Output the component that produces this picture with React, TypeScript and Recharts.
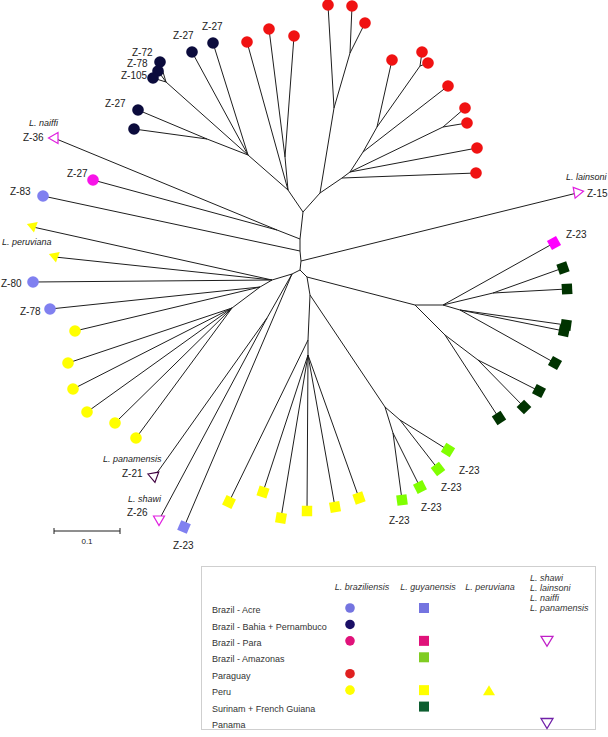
import React from 'react';
import { ScatterChart, Scatter, XAxis, YAxis } from 'recharts';

const W = 608;
const H = 737;

// Layout units: 660 units = 1 substitution/site (scale bar 0.1 = 66 units)
const internalNodes: [string, number, number][] = [
  ['T0', 303, 212], ['T1', 300, 239], ['T2', 300, 251], ['T3', 301, 261], ['T4', 300, 270],
  ['B', 292, 274], ['C', 307, 277],
  ['L1', 288, 190], ['R3', 320, 193],
  ['RA', 285, 157], ['N1', 248, 155], ['N2', 207, 139], ['N3', 166, 82],
  ['R1', 334, 108], ['R2', 350, 53], ['R4', 342, 178], ['R5', 350, 172], ['R6', 363, 152],
  ['R7', 377, 127], ['R8', 443, 127], ['R9', 420, 66],
  ['A', 277, 230],
  ['Q', 272, 280], ['Q2', 260, 287], ['Y1', 232, 308], ['M', 267, 318],
  ['C2', 310, 295], ['C3', 308, 340], ['C4', 308, 355],
  ['A1', 385, 407], ['A2', 400, 420], ['A3', 393, 433],
  ['G0', 415, 305], ['G1', 443, 305], ['G2', 445, 335], ['G3', 493, 293], ['G4', 460, 310], ['G5', 478, 360],
];

// tips [id, x, y, group]
const tipNodes: [string, number, number, string][] = [
  ['p1', 247, 42, 'red'], ['p2', 269, 29, 'red'], ['p3', 294, 36, 'red'],
  ['p4', 328, 5, 'red'], ['p5', 352, 6, 'red'], ['p6', 365, 23, 'red'], ['p7', 392, 60, 'red'],
  ['p8', 422, 52, 'red'], ['p9', 428, 63, 'red'], ['p10', 448, 86, 'red'], ['p11', 465, 108, 'red'],
  ['p12', 467, 123, 'red'], ['p13', 477, 148, 'red'], ['p14', 476, 173, 'red'],
  ['b1', 192, 52, 'navy'], ['b2', 213, 43, 'navy'], ['b3', 160, 62, 'navy'], ['b4', 158, 71, 'navy'],
  ['b5', 153, 78, 'navy'], ['b6', 138, 110, 'navy'], ['b7', 134, 129, 'navy'],
  ['naiffi', 54, 138, 'naiffi'], ['pk', 93, 180, 'paraBraz'], ['z83', 43, 196, 'acreBraz'],
  ['tr1', 33, 227, 'peruPeru'], ['tr2', 55, 257, 'peruPeru'], ['z80', 33, 282, 'acreBraz'], ['z78', 50, 309, 'acreBraz'],
  ['y1', 75, 331, 'peruBraz'], ['y2', 68, 363, 'peruBraz'], ['y3', 73, 389, 'peruBraz'],
  ['y4', 87, 412, 'peruBraz'], ['y5', 115, 423, 'peruBraz'], ['y6', 136, 438, 'peruBraz'],
  ['pan', 154, 477, 'panamensis'], ['shawi', 159, 520, 'shawi'], ['bz23', 184, 527, 'acreGuy'],
  ['s1', 229, 502, 'peruGuy'], ['s2', 263, 492, 'peruGuy'], ['s3', 281, 518, 'peruGuy'],
  ['s4', 307, 511, 'peruGuy'], ['s5', 335, 507, 'peruGuy'], ['s6', 359, 498, 'peruGuy'],
  ['g1', 402, 500, 'amazGuy'], ['g2', 420, 487, 'amazGuy'], ['g3', 438, 469, 'amazGuy'], ['g4', 448, 450, 'amazGuy'],
  ['m1', 554, 243, 'paraGuy'],
  ['d1', 563, 268, 'surGuy'], ['d2', 567, 289, 'surGuy'], ['d3', 566, 325, 'surGuy'], ['d3b', 564, 331, 'surGuy'],
  ['d4', 555, 363, 'surGuy'], ['d5', 539, 391, 'surGuy'], ['d6', 524, 407, 'surGuy'], ['d7', 499, 418, 'surGuy'],
  ['lain', 577, 193, 'lainsoni'],
];

// edges [parent, child]
const edges: [string, string][] = [
  ['T0', 'T1'], ['T1', 'T2'], ['T2', 'T3'], ['T3', 'T4'], ['T4', 'B'], ['T4', 'C'],
  ['T0', 'L1'], ['T0', 'R3'],
  ['L1', 'RA'], ['RA', 'p2'], ['RA', 'p3'], ['L1', 'p1'], ['L1', 'N1'],
  ['N1', 'b1'], ['N1', 'b2'], ['N1', 'N2'], ['N2', 'b6'], ['N2', 'b7'], ['N1', 'N3'],
  ['N3', 'b3'], ['N3', 'b4'], ['N3', 'b5'],
  ['R3', 'R1'], ['R1', 'p4'], ['R1', 'R2'], ['R2', 'p5'], ['R2', 'p6'],
  ['R3', 'R4'], ['R4', 'p14'], ['R4', 'R5'], ['R5', 'p13'], ['R5', 'R8'], ['R8', 'p11'], ['R8', 'p12'],
  ['R5', 'R6'], ['R6', 'p10'], ['R6', 'R7'], ['R7', 'p7'], ['R7', 'R9'], ['R9', 'p8'], ['R9', 'p9'],
  ['T1', 'A'], ['A', 'naiffi'], ['A', 'pk'], ['T2', 'z83'], ['T3', 'lain'],
  ['B', 'Q'], ['Q', 'tr1'], ['Q', 'tr2'], ['Q', 'z80'], ['Q', 'Q2'], ['Q2', 'z78'], ['Q2', 'y1'], ['Q2', 'Y1'],
  ['Y1', 'y2'], ['Y1', 'y3'], ['Y1', 'y4'], ['Y1', 'y5'], ['Y1', 'y6'],
  ['B', 'M'], ['M', 'pan'], ['M', 'shawi'], ['B', 'bz23'],
  ['C', 'G0'], ['G0', 'G1'], ['G0', 'G2'], ['G1', 'm1'], ['G1', 'G3'], ['G3', 'd1'], ['G3', 'd2'],
  ['G1', 'G4'], ['G4', 'd3'], ['G4', 'd3b'], ['G4', 'd4'], ['G2', 'G5'], ['G5', 'd5'], ['G5', 'd6'], ['G2', 'd7'],
  ['C', 'C2'], ['C2', 'A1'], ['A1', 'A2'], ['A1', 'A3'], ['A2', 'g4'], ['A2', 'g3'], ['A3', 'g2'], ['A3', 'g1'],
  ['C2', 'C3'], ['C3', 's1'], ['C3', 'C4'], ['C4', 's2'], ['C4', 's3'], ['C4', 's4'], ['C4', 's5'], ['C4', 's6'],
];

// text labels [text, x, baseline y]
const isolateLabels: [string, number, number][] = [
  ['Z-27', 173, 39], ['Z-27', 202, 30], ['Z-72', 132, 56], ['Z-78', 127, 67], ['Z-105', 121, 79],
  ['Z-27', 105, 107], ['Z-36', 23, 141], ['Z-27', 67, 177], ['Z-83', 10, 195], ['Z-80', 1, 287],
  ['Z-78', 20, 315], ['Z-21', 122, 477], ['Z-26', 127, 516], ['Z-23', 173, 549],
  ['Z-23', 389, 524], ['Z-23', 421, 511], ['Z-23', 441, 491], ['Z-23', 459, 474],
  ['Z-23', 566, 238], ['Z-15', 587, 197],
];
const speciesLabels: [string, number, number][] = [
  ['L. naiffi', 29, 126], ['L. peruviana', 2, 245], ['L. panamensis', 103, 462],
  ['L. shawi', 128, 502], ['L. lainsoni', 566, 180],
];

const scaleBarStart: [number, number] = [54, 531];
const scaleBarValue = 0.1;
const unitsPerSubstitution = 660;

const legendRows = [
  'Brazil - Acre', 'Brazil - Bahia + Pernambuco', 'Brazil - Para', 'Brazil - Amazonas',
  'Paraguay', 'Peru', 'Surinam + French Guiana', 'Panama',
];
const legendCols = ['L. braziliensis', 'L. guyanensis', 'L. peruviana'];
const legendLastCol = ['L. shawi', 'L. lainsoni', 'L. naiffi', 'L. panamensis'];
// [row, col, kind, color]
const legendCells: [number, number, string, string][] = [
  [0, 0, 'circle', '#7474e0'], [0, 1, 'square', '#7474e0'],
  [1, 0, 'circle', '#1a0f66'],
  [2, 0, 'circle', '#e0127a'], [2, 1, 'square', '#e0127a'], [2, 3, 'tri', '#c020c8'],
  [3, 1, 'square', '#80cc22'],
  [4, 0, 'circle', '#e02020'],
  [5, 0, 'circle', '#ffff00'], [5, 1, 'square', '#ffff00'], [5, 2, 'triUp', '#ffff00'],
  [6, 1, 'square', '#0d5e30'],
  [7, 3, 'tri', '#7020a8'],
];

const MARKER: Record<string, { kind: string; color: string; rot?: number; filled?: boolean }> = {
  red: { kind: 'circle', color: '#f01212' },
  navy: { kind: 'circle', color: '#0b0b3c' },
  acreBraz: { kind: 'circle', color: '#8080f0' },
  paraBraz: { kind: 'circle', color: '#f814e8' },
  peruBraz: { kind: 'circle', color: '#ffff00' },
  peruGuy: { kind: 'square', color: '#ffff00' },
  amazGuy: { kind: 'square', color: '#80ff00' },
  surGuy: { kind: 'square', color: '#003300' },
  paraGuy: { kind: 'square', color: '#ff00ff' },
  acreGuy: { kind: 'square', color: '#8080f0' },
  peruPeru: { kind: 'tri', color: '#ffff00', rot: -10, filled: true },
  naiffi: { kind: 'tri', color: '#e020e0', rot: 90 },
  lainsoni: { kind: 'tri', color: '#e020e0', rot: 20 },
  shawi: { kind: 'tri', color: '#e020e0', rot: 0 },
  panamensis: { kind: 'tri', color: '#400040', rot: -10 },
};

const nodePos: Record<string, { x: number; y: number }> = {};
internalNodes.forEach(([id, x, y]) => { nodePos[id] = { x, y }; });
tipNodes.forEach(([id, x, y]) => { nodePos[id] = { x, y }; });
const parentOf: Record<string, string> = {};
edges.forEach(([p, c]) => { parentOf[c] = p; });

const tipData = tipNodes.map(([id, x, y, group]) => ({ id, x, y, group }));
const isolateData = isolateLabels.map(([text, x, y]) => ({ text, x, y }));
const speciesData = speciesLabels.map(([text, x, y]) => ({ text, x, y }));
const barLen = scaleBarValue * unitsPerSubstitution;
const scaleBarData = [
  { x: scaleBarStart[0], y: scaleBarStart[1] },
  { x: scaleBarStart[0] + barLen, y: scaleBarStart[1] },
];
const scaleTickL = [
  { x: scaleBarStart[0], y: scaleBarStart[1] - 3 },
  { x: scaleBarStart[0], y: scaleBarStart[1] + 3 },
];
const scaleTickR = [
  { x: scaleBarStart[0] + barLen, y: scaleBarStart[1] - 3 },
  { x: scaleBarStart[0] + barLen, y: scaleBarStart[1] + 3 },
];
const scaleLabelData = [{ text: String(scaleBarValue), x: scaleBarStart[0] + barLen / 2, y: scaleBarStart[1] + 13 }];

const FONT = '"Liberation Sans", Arial, sans-serif';
const empty = () => <g />;

const renderTip = (props: any) => {
  const { cx, cy, payload } = props;
  const st = MARKER[payload.group];
  const par = nodePos[parentOf[payload.id]];
  const ang = (Math.atan2(payload.y - par.y, payload.x - par.x) * 180) / Math.PI;
  if (st.kind === 'circle') return <circle cx={cx} cy={cy} r={5.8} fill={st.color} />;
  if (st.kind === 'square')
    return (
      <rect x={cx - 5.2} y={cy - 5.2} width={10.4} height={10.4} fill={st.color}
        transform={`rotate(${ang} ${cx} ${cy})`} />
    );
  return (
    <polygon points="-5.5,-4 5.5,-4 0,5.5"
      transform={`translate(${cx} ${cy}) rotate(${st.rot || 0})`}
      fill={st.filled ? st.color : '#fff'} stroke={st.filled ? 'none' : st.color} strokeWidth={1.2} />
  );
};

const renderIsolate = (props: any) => (
  <text x={props.cx} y={props.cy} fontSize={10} fontFamily={FONT} fill="#222">{props.payload.text}</text>
);
const renderSpecies = (props: any) => (
  <text x={props.cx} y={props.cy} fontSize={9} fontStyle="italic" fontFamily={FONT} fill="#222">{props.payload.text}</text>
);
const renderScaleLabel = (props: any) => (
  <text x={props.cx} y={props.cy} fontSize={8} fontFamily={FONT} fill="#222" textAnchor="middle">{props.payload.text}</text>
);

const lineStyle = { stroke: '#1e1e1e', strokeWidth: 1 };

const LegendBox = () => {
  const left = 201, top = 566, w = 394, h = 163;
  const rowY = (i: number) => 44 + i * 16.43;
  const colX = [149, 223, 288, 346];
  const headX = [161, 227, 289];
  return (
    <svg width={w + 2} height={h + 2} style={{ position: 'absolute', left, top }}>
      <rect x={0.5} y={0.5} width={w} height={h} fill="#fff" stroke="#cfcfcf" strokeWidth={1} />
      {legendRows.map((r, i) => (
        <text key={r} x={11} y={rowY(i) + 3.2} fontSize={9} fontFamily={FONT} fill="#333">{r}</text>
      ))}
      {legendCols.map((c, i) => (
        <text key={c} x={headX[i]} y={24} fontSize={9} fontStyle="italic" textAnchor="middle" fontFamily={FONT} fill="#333">{c}</text>
      ))}
      {legendLastCol.map((c, i) => (
        <text key={c} x={329} y={15 + i * 10} fontSize={9} fontStyle="italic" fontFamily={FONT} fill="#333">{c}</text>
      ))}
      {legendCells.map(([r, c, kind, color], i) => {
        const x = colX[c];
        const y = rowY(r) - 2;
        if (kind === 'circle') return <circle key={i} cx={x} cy={y} r={4.8} fill={color} />;
        if (kind === 'square') return <rect key={i} x={x - 5} y={y - 5} width={10} height={10} fill={color} />;
        if (kind === 'triUp')
          return <polygon key={i} points={`${x},${y - 5} ${x + 6},${y + 5} ${x - 6},${y + 5}`} fill={color} />;
        return (
          <polygon key={i} points={`${x - 6},${y - 4.5} ${x + 6},${y - 4.5} ${x},${y + 5.5}`}
            fill="#fff" stroke={color} strokeWidth={1.3} />
        );
      })}
    </svg>
  );
};

export default function App() {
  return (
    <div style={{ position: 'absolute', left: 0, top: 0, width: W, height: H, background: '#fff' }}>
      <ScatterChart width={W} height={H} margin={{ top: 0, right: 0, bottom: 0, left: 0 }}>
        <XAxis type="number" dataKey="x" domain={[0, W]} hide allowDataOverflow />
        <YAxis type="number" dataKey="y" domain={[0, H]} reversed hide allowDataOverflow />
        {edges.map(([p, c], i) => (
          <Scatter key={`e${i}`} data={[nodePos[p], nodePos[c]]} line={lineStyle} shape={empty}
            isAnimationActive={false} />
        ))}
        <Scatter data={scaleBarData} line={lineStyle} shape={empty} isAnimationActive={false} />
        <Scatter data={scaleTickL} line={lineStyle} shape={empty} isAnimationActive={false} />
        <Scatter data={scaleTickR} line={lineStyle} shape={empty} isAnimationActive={false} />
        <Scatter data={scaleLabelData} shape={renderScaleLabel} isAnimationActive={false} />
        <Scatter data={tipData} shape={renderTip} isAnimationActive={false} />
        <Scatter data={isolateData} shape={renderIsolate} isAnimationActive={false} />
        <Scatter data={speciesData} shape={renderSpecies} isAnimationActive={false} />
      </ScatterChart>
      <LegendBox />
    </div>
  );
}
